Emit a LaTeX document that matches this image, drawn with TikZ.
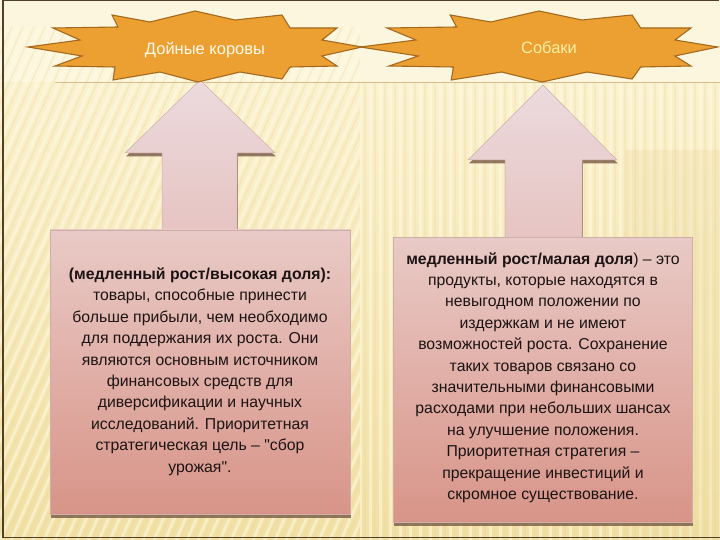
\documentclass[tikz,border=0pt]{standalone}
\usepackage{fontspec}
\setmainfont{Liberation Sans}[Ligatures=TeXOff]
\definecolor{bgtopc}{RGB}{252,244,214}
\definecolor{bgbotc}{RGB}{241,224,164}
\definecolor{bgtop}{RGB}{253,246,222}
\definecolor{stripeA}{RGB}{255,250,225}
\definecolor{stripeB}{RGB}{236,218,160}
\definecolor{frameclr}{RGB}{80,64,40}
\definecolor{lineclr}{RGB}{215,190,140}
\definecolor{starfill}{RGB}{236,160,50}
\definecolor{starline}{RGB}{165,105,30}
\definecolor{arrtop}{RGB}{236,218,222}
\definecolor{arrbot}{RGB}{230,196,194}
\definecolor{boxtop}{RGB}{233,202,198}
\definecolor{boxbot}{RGB}{216,148,136}
\definecolor{shadowclr}{RGB}{120,90,70}
\definecolor{edgeclr}{RGB}{205,175,170}
\definecolor{txtclr}{RGB}{28,20,20}
\definecolor{startxtA}{RGB}{255,250,236}
\definecolor{startxtB}{RGB}{255,238,165}
\tikzset{
  starshape/.style={fill=starfill, draw=starline, line width=1.1pt, line join=miter},
  arrowshade/.style={top color=arrtop, bottom color=arrbot, draw=edgeclr, line width=0.5pt},
  boxshade/.style={top color=boxtop, bottom color=boxbot, draw=edgeclr, line width=0.5pt},
  shadowfill/.style={fill=shadowclr, opacity=0.8},
  boxtext/.style={text=txtclr, align=center, inner sep=0pt, font=\fontsize{15.8}{21.4}\selectfont},
  startext/.style={inner sep=0pt, font=\fontsize{16.5}{18}\selectfont}
}
\newcommand{\starpts}{(-167,0) -- (-115,-7) -- (-142,-19) -- (-77,-20) -- (-83,-32) -- (-45,-25) -- (0,-36) -- (40,-27) -- (87,-32) -- (95,-19) -- (142,-19) -- (127,-7) -- (167,0) -- (127,9) -- (142,19) -- (95,20) -- (87,32) -- (45,25) -- (3,35) -- (-35,25) -- (-82,33) -- (-80,20) -- (-140,19) -- (-113,9) -- cycle}
\begin{document}
\begin{tikzpicture}[x=1pt,y=-1pt]
\useasboundingbox (0,0) rectangle (720,540);
% background
\shade[top color=bgtopc, bottom color=bgbotc] (0,0) rectangle (720,540);
\fill[bgtop] (0,0) rectangle (720,82);
\begin{scope}
  \clip (0,28) rectangle (360,540);
  \foreach \i in {-50,...,40} {
    \draw[stripeA, line width=3pt, opacity=0.55] (\i*11,540) -- ++(230,-520);
    \draw[stripeB, line width=1.5pt, opacity=0.35] (\i*11+5,540) -- ++(230,-520);
  }
\end{scope}
\begin{scope}
  \clip (360,82) rectangle (720,540);
  \foreach \i in {0,...,36} {
    \draw[stripeA, line width=3pt, opacity=0.5] (360+\i*10,82) -- ++(0,460);
    \draw[stripeB, line width=1.5pt, opacity=0.3] (365+\i*10,82) -- ++(0,460);
  }
  \fill[stripeB, opacity=0.3] (625,150) rectangle (720,540);
\end{scope}
\draw[lineclr, line width=0.7pt] (55,82) -- (720,82);
% left arrow and box
\begin{scope}[shift={(0.8,3.5)}]
  \fill[shadowfill] (200,80) -- (275,153) -- (237,153) -- (237,232) -- (162,232) -- (162,153) -- (125,153) -- cycle;
  \fill[shadowfill] (50,230) rectangle (350,514);
\end{scope}
\shade[arrowshade] (200,80) -- (275,153) -- (237,153) -- (237,232) -- (162,232) -- (162,153) -- (125,153) -- cycle;
\shade[boxshade] (50,230) rectangle (350,514);
% right arrow and box
\begin{scope}[shift={(0.8,3.5)}]
  \fill[shadowfill] (543,85) -- (617,160) -- (582,160) -- (582,239) -- (505,239) -- (505,160) -- (468,160) -- cycle;
  \fill[shadowfill] (393,237) rectangle (692,522);
\end{scope}
\shade[arrowshade] (543,85) -- (617,160) -- (582,160) -- (582,239) -- (505,239) -- (505,160) -- (468,160) -- cycle;
\shade[boxshade] (393,237) rectangle (692,522);
% stars
\begin{scope}[shift={(195,47)}]
  \draw[starshape] \starpts;
\end{scope}
\begin{scope}[shift={(539,47)}, xscale=1.07]
  \draw[starshape] \starpts;
\end{scope}
\node[startext, text=startxtA] (cows) at (205,50) {Дойные коровы};
\node[startext, text=startxtB] (dogs) at (549,48) {Собаки};
% texts
\node[boxtext] (lt) at (200,371.5) {\textbf{(медленный рост/высокая доля):}\\
товары, способные принести\\
больше прибыли, чем необходимо\\
для поддержания их роста. Они\\
являются основным источником\\
финансовых средств для\\
диверсификации и научных\\
исследований. Приоритетная\\
стратегическая цель – "сбор\\
урожая".};
\node[boxtext] (rt) at (543,377.5) {\textbf{медленный рост/малая доля}) – это\\
продукты, которые находятся в\\
невыгодном положении по\\
издержкам и не имеют\\
возможностей роста. Сохранение\\
таких товаров связано со\\
значительными финансовыми\\
расходами при небольших шансах\\
на улучшение положения.\\
Приоритетная стратегия –\\
прекращение инвестиций и\\
скромное существование.};
% frame
\draw[frameclr, line width=1.5pt] (719,0.75) -- (3,0.75) -- (3,537.5) -- (720,537.5);
\end{tikzpicture}
\end{document}
